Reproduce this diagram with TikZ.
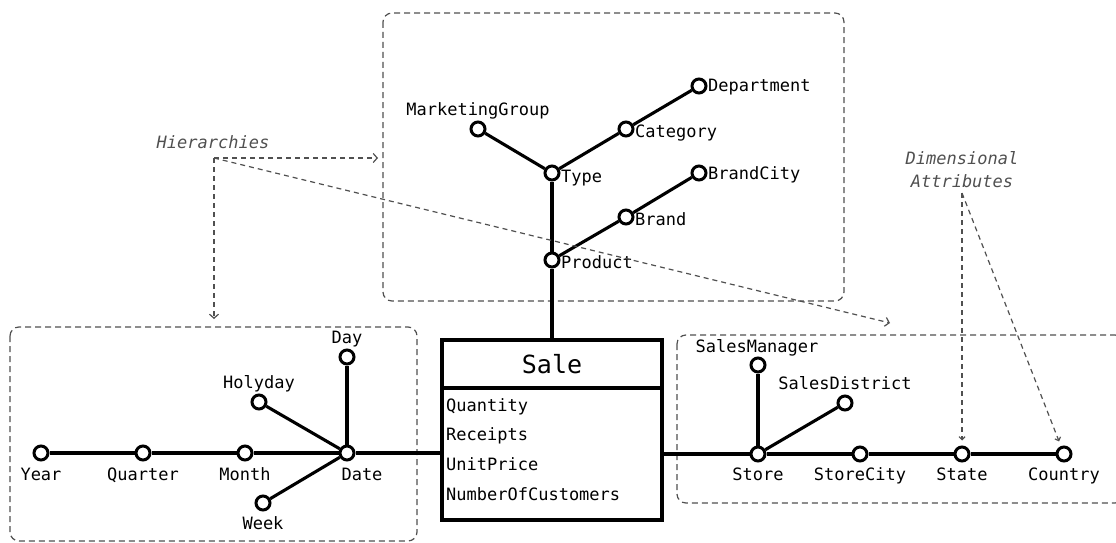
\documentclass[tikz,border=0pt]{standalone}
\usepackage{fontspec}
\setmainfont{DejaVu Sans Mono}
\usetikzlibrary{arrows.meta}
\definecolor{annotgray}{HTML}{505050}
\tikzset{
  dot/.style={circle, draw=black, fill=white, line width=3pt, minimum size=14pt, inner sep=0pt},
  link/.style={line width=3.1pt, black},
  lbl/.style={font=\fontsize{17}{19}\selectfont, inner sep=0pt, anchor=base},
  rlbl/.style={lbl, anchor=base west},
  groupbox/.style={draw=annotgray, line width=1.2pt, dash pattern=on 6pt off 4pt, rounded corners=9pt},
  annot/.style={draw=annotgray, line width=1.2pt, dash pattern=on 5pt off 4pt},
  tip/.style={-{Straight Barb[length=4pt,width=9pt,line width=1.2pt]}},
  smalltip/.style={-{Straight Barb[length=3pt,width=6pt,line width=1.2pt]}},
  note/.style={font=\fontsize{17}{19}\selectfont\itshape, text=annotgray, inner sep=0pt, anchor=base},
}
\begin{document}
\begin{tikzpicture}[x=1pt,y=-1pt]
\useasboundingbox (0,0) rectangle (1116,543);

% dimension groups
\draw[groupbox] (10,327) rectangle (417,541);
\draw[groupbox] (383,13) rectangle (844,301);
\draw[groupbox] (677,335) rectangle (1124,503);

% fact table
\node[draw, line width=3.1pt, minimum width=220pt, minimum height=180pt, inner sep=0pt] (sale) at (552,430) {};
\draw[line width=3.1pt] (sale.west |- 0,388) -- (sale.east |- 0,388);
\node[inner sep=0pt, anchor=base, font=\fontsize{25}{28}\selectfont] (saletitle) at (552,373) {Sale};
\node[rlbl] (quantity) at (446,411) {Quantity};
\node[rlbl] (receipts) at (446,440) {Receipts};
\node[rlbl] (unitprice) at (446,470) {UnitPrice};
\node[rlbl] (numcust) at (446,500) {NumberOfCustomers};

% time dimension
\node[dot] (year) at (41,453) {};
\node[dot] (quarter) at (143,453) {};
\node[dot] (month) at (245,453) {};
\node[dot] (date) at (347,453) {};
\node[dot] (day) at (347,357) {};
\node[dot] (holyday) at (259,402) {};
\node[dot] (week) at (263,503) {};
\node[lbl] at (41,480) {Year};
\node[lbl] at (143,480) {Quarter};
\node[lbl] at (245,480) {Month};
\node[lbl] at (362,480) {Date};
\node[lbl] at (347,343) {Day};
\node[lbl] at (259,388) {Holyday};
\node[lbl] at (263,529) {Week};
\draw[link] (year) -- (quarter);
\draw[link] (quarter) -- (month);
\draw[link] (month) -- (date);
\draw[link] (date) -- (day);
\draw[link] (date) -- (holyday);
\draw[link] (date) -- (week);
\draw[link] (date) -- (date -| sale.west);

% product dimension
\node[dot] (product) at (552,260) {};
\node[dot] (type) at (552,173) {};
\node[dot] (mgroup) at (478,129) {};
\node[dot] (category) at (626,129) {};
\node[dot] (department) at (699,86) {};
\node[dot] (brand) at (626,217) {};
\node[dot] (brandcity) at (699,173) {};
\node[rlbl] at (561,268) {Product};
\node[rlbl] at (561,182) {Type};
\node[rlbl] at (635,137) {Category};
\node[rlbl] at (708,91) {Department};
\node[rlbl] at (635,225) {Brand};
\node[rlbl] at (708,179) {BrandCity};
\node[lbl] at (478,115) {MarketingGroup};
\draw[link] (product |- sale.north) -- (product);
\draw[link] (product) -- (type);
\draw[link] (type) -- (mgroup);
\draw[link] (type) -- (category);
\draw[link] (category) -- (department);
\draw[link] (product) -- (brand);
\draw[link] (brand) -- (brandcity);

% store dimension
\node[dot] (store) at (758,454) {};
\node[dot] (storecity) at (860,454) {};
\node[dot] (state) at (962,454) {};
\node[dot] (country) at (1064,454) {};
\node[dot] (salesmgr) at (758,365) {};
\node[dot] (salesdist) at (845,403) {};
\node[lbl] at (758,480) {Store};
\node[lbl] at (860,480) {StoreCity};
\node[lbl] at (962,480) {State};
\node[lbl] at (1064,480) {Country};
\node[lbl] at (757,352) {SalesManager};
\node[lbl] at (845,389) {SalesDistrict};
\draw[link] (sale.east |- store) -- (store);
\draw[link] (store) -- (storecity);
\draw[link] (storecity) -- (state);
\draw[link] (state) -- (country);
\draw[link] (store) -- (salesmgr);
\draw[link] (store) -- (salesdist);

% annotations
\node[note] (hiernote) at (213,148) {Hierarchies};
\coordinate (hiersrc) at (214,158);
\coordinate (hierprod) at (378,158);
\coordinate (hiertime) at (214,319);
\coordinate (hierstore) at (890,323);
\draw[annot, tip] (hiersrc) -- (hierprod);
\draw[annot, tip] (hiersrc) -- (hiertime);
\draw[annot, tip] (hiersrc) -- (hierstore);

\node[note] (dimnote1) at (962,164) {Dimensional};
\node[note] (dimnote2) at (962,187) {Attributes};
\coordinate (dimsrc) at (962,193);
\draw[annot, smalltip, shorten >=5pt] (dimsrc) -- (state);
\draw[annot, smalltip, shorten >=5pt] (dimsrc) -- (country);
\end{tikzpicture}
\end{document}
